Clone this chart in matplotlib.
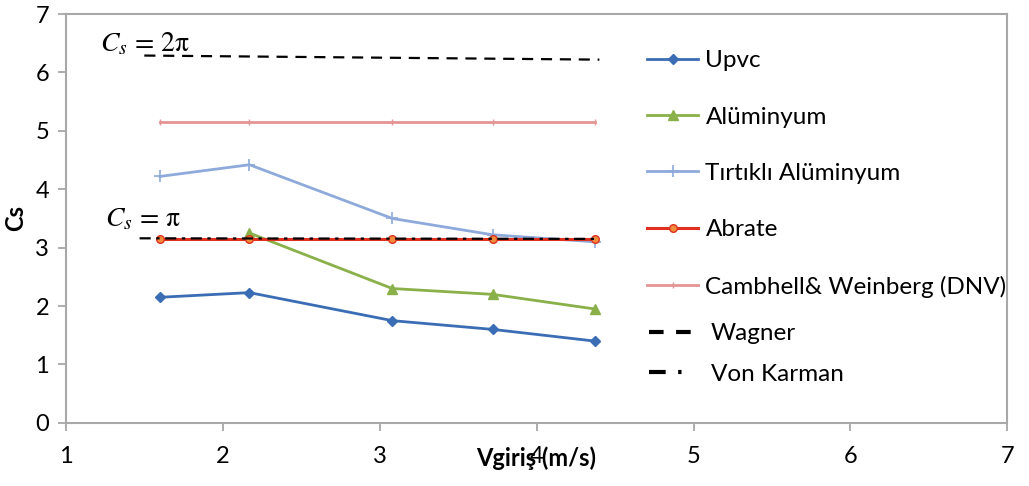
import matplotlib
matplotlib.use("Agg")
import matplotlib.pyplot as plt
from matplotlib.lines import Line2D

plt.rcParams['font.family'] = ['Lato', 'DejaVu Sans']
plt.rcParams['mathtext.fontset'] = 'stix'

v = [1.6, 2.17, 3.08, 3.72, 4.37]
upvc = [2.15, 2.23, 1.75, 1.6, 1.4]
alu_v = [2.17, 3.08, 3.72, 4.37]
alu = [3.25, 2.3, 2.2, 1.95]
tirtikli = [4.22, 4.42, 3.5, 3.22, 3.1]
abrate = [3.14, 3.14, 3.14, 3.14, 3.14]
dnv = [5.15, 5.15, 5.15, 5.15, 5.15]
wagner_v = [1.5, 4.4]
wagner = [6.29, 6.22]
karman_v = [1.47, 4.37]
karman = [3.16, 3.15]

fig = plt.figure(figsize=(10.29, 4.86), dpi=100)
ax = fig.add_axes([0.064, 0.130, 0.915, 0.841])

l1, = ax.plot(v, upvc, color='#3B6DB5', lw=2, marker='D', ms=5, label='Upvc')
l2, = ax.plot(alu_v, alu, color='#8AB04A', lw=2, marker='^', ms=7, label='Alüminyum')
l3, = ax.plot(v, tirtikli, color='#8EAADB', lw=2, marker='+', ms=9, mew=1.2, label='Tırtıklı Alüminyum')
l4, = ax.plot(v, abrate, color='#E0301E', lw=2.2, marker='o', ms=5.5, mfc='#F08C3C', mec='#E0301E', label='Abrate')
l5, = ax.plot(v, dnv, color='#E39494', lw=2, marker='|', ms=4, label='Cambhell& Weinberg (DNV)')
ax.plot(wagner_v, wagner, color='black', lw=1.6, dashes=(5, 3.5))
ax.plot(karman_v, karman, color='black', lw=1.6, dashes=(5, 2.5, 1.5, 2.5))

ax.text(1.22, 6.36, r'$C_s\,=\,2\mathrm{π}$', fontsize=20, color='black')
ax.text(1.25, 3.36, r'$C_s\,=\,\mathrm{π}$', fontsize=20, color='black')

ax.set_xlim(1, 7)
ax.set_ylim(0, 7)
ax.set_xticks(range(1, 8))
ax.set_yticks(range(0, 8))
ax.tick_params(axis='both', labelsize=17, color='#A0A0A0', length=6, width=1.2, direction='out')
ax.tick_params(axis='x', pad=11)
ax.tick_params(axis='y', pad=6)
for s in ax.spines.values():
    s.set_color('#A8A8A8')
    s.set_linewidth(1.5)

ax.set_xlabel('Vgiriş (m/s)', fontsize=17, fontweight='bold', labelpad=-15)
ax.set_ylabel('Cs', fontsize=17, fontweight='bold', labelpad=6)

leg1 = ax.legend(handles=[l1, l2, l3, l4, l5], loc='upper left',
                 bbox_to_anchor=(0.607, 0.935), frameon=False, fontsize=17.5,
                 labelspacing=1.45, handlelength=2.1, handletextpad=0.3,
                 borderaxespad=0)
ax.add_artist(leg1)
h6 = Line2D([], [], color='black', lw=3, dashes=(3.5, 3.0))
h7 = Line2D([], [], color='black', lw=3, dashes=(4.0, 3.0, 0.8, 12))
leg2 = ax.legend(handles=[h6, h7], labels=['Wagner', 'Von Karman'], loc='upper left',
                 bbox_to_anchor=(0.609, 0.268), frameon=False, fontsize=17.5,
                 labelspacing=0.82, handlelength=2.0, handletextpad=0.55,
                 borderaxespad=0)

fig.savefig('out.png', dpi=100)
